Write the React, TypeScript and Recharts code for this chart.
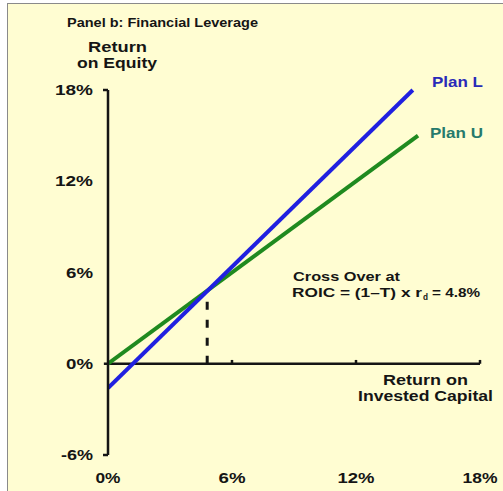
import { LineChart, Line, XAxis, YAxis, ReferenceLine } from 'recharts';

// Plan U (unlevered) and Plan L (levered): ROE against ROIC, in %
const planURoic = [0, 15];
const planURoe = [0, 15];
const planLRoic = [0, 14.75];
const planLRoe = [-1.6, 18];

const crossOver = 4.8;
const xTicks = [0, 6, 12, 18];
const yTicks = [-6, 0, 6, 12, 18];

const xLabelWidths: { [key: number]: number } = { 0: 25, 6: 27, 12: 37, 18: 35 };
const yLabelWidths: { [key: number]: number } = { 18: 38, 12: 38, 6: 27, 0: 27, [-6]: 32 };

const planU = planURoic.map((roic, i) => ({ roic, roe: planURoe[i] }));
const planL = planLRoic.map((roic, i) => ({ roic, roe: planLRoe[i] }));

const FONT = '"Liberation Sans", Arial, sans-serif';
const INK = '#151515';

function XTick(props: any) {
  const { x, y, payload } = props;
  return (
    <text
      x={x}
      y={y + 28}
      textAnchor="middle"
      fontFamily={FONT}
      fontWeight="bold"
      fontSize={14}
      fill={INK}
      textLength={xLabelWidths[payload.value]}
      lengthAdjust="spacingAndGlyphs"
    >
      {payload.value}%
    </text>
  );
}

function YTick(props: any) {
  const { x, y, payload } = props;
  const v = payload.value;
  return (
    <g>
      {(v === 18 || v === -6) && (
        <line x1={x + 10} x2={x + 15} y1={y} y2={y} stroke={INK} strokeWidth={2.5} />
      )}
      <text
        x={x}
        y={y + 5}
        textAnchor="end"
        fontFamily={FONT}
        fontWeight="bold"
        fontSize={14}
        fill={INK}
        textLength={yLabelWidths[v]}
        lengthAdjust="spacingAndGlyphs"
      >
        {v}%
      </text>
    </g>
  );
}

function Txt({ x, y, w, children, fill = INK, size = 14 }: any) {
  return (
    <text
      x={x}
      y={y}
      fontFamily={FONT}
      fontWeight="bold"
      fontSize={size}
      fill={fill}
      textLength={w}
      lengthAdjust="spacingAndGlyphs"
    >
      {children}
    </text>
  );
}

export default function App() {
  return (
    <div style={{ position: 'absolute', left: 0, top: 0, width: 503, height: 491, background: '#fff' }}>
      <div
        style={{
          position: 'absolute',
          left: 7,
          top: 3,
          width: 496,
          height: 488,
          background: '#FFFDD2',
          borderLeft: '1.5px solid #8a8a8a',
          borderTop: '1.5px solid #8a8a8a',
          boxSizing: 'border-box',
        }}
      />
      <div style={{ position: 'absolute', left: 0, top: 0 }}>
        <LineChart width={503} height={491} margin={{ top: 90, right: 23, bottom: 0, left: 48 }}>
          <XAxis
            dataKey="roic"
            type="number"
            domain={[0, 18]}
            ticks={xTicks}
            allowDataOverflow
            axisLine={false}
            tickLine={false}
            tickSize={0}
            tickMargin={0}
            height={36}
            tick={<XTick />}
          />
          <YAxis
            type="number"
            domain={[-6, 18]}
            ticks={yTicks}
            width={60}
            axisLine={{ stroke: INK, strokeWidth: 2.5 }}
            tickLine={false}
            tickSize={0}
            tickMargin={15}
            tick={<YTick />}
          />
          <ReferenceLine
            segment={[{ x: -0.2, y: 0 }, { x: 18, y: 0 }]}
            stroke={INK}
            strokeWidth={2.5}
            ifOverflow="visible"
          />
          {xTicks.slice(1).map((t) => (
            <ReferenceLine
              key={t}
              segment={[{ x: t, y: 0 }, { x: t, y: 0.25 }]}
              stroke={INK}
              strokeWidth={2.5}
              ifOverflow="visible"
            />
          ))}
          <ReferenceLine
            segment={[{ x: crossOver, y: 0 }, { x: crossOver, y: crossOver }]}
            stroke={INK}
            strokeWidth={3}
            strokeDasharray="8 10"
          />
          <Line
            data={planU}
            dataKey="roe"
            stroke="#1f8a1f"
            strokeWidth={4}
            dot={false}
            isAnimationActive={false}
          />
          <Line
            data={planL}
            dataKey="roe"
            stroke="#2020e0"
            strokeWidth={4}
            dot={false}
            isAnimationActive={false}
          />
        </LineChart>
      </div>
      <svg width={503} height={491} style={{ position: 'absolute', left: 0, top: 0, pointerEvents: 'none' }}>
        <Txt x={67} y={27} w={191} size={13}>Panel b: Financial Leverage</Txt>
        <Txt x={88} y={52} w={59}>Return</Txt>
        <Txt x={77} y={68} w={80}>on Equity</Txt>
        <Txt x={432} y={87} w={51} fill="#2a2ab8">Plan L</Txt>
        <Txt x={430} y={138} w={53} fill="#267a6c">Plan U</Txt>
        <Txt x={293} y={281} w={107} size={13}>Cross Over at</Txt>
        <Txt x={292} y={297} w={130} size={13}>ROIC = (1–T) x r</Txt>
        <Txt x={423} y={300} w={5} size={9}>d</Txt>
        <Txt x={432} y={297} w={48} size={13}>= 4.8%</Txt>
        <Txt x={383} y={385} w={85}>Return on</Txt>
        <Txt x={358} y={401} w={135}>Invested Capital</Txt>
      </svg>
    </div>
  );
}
